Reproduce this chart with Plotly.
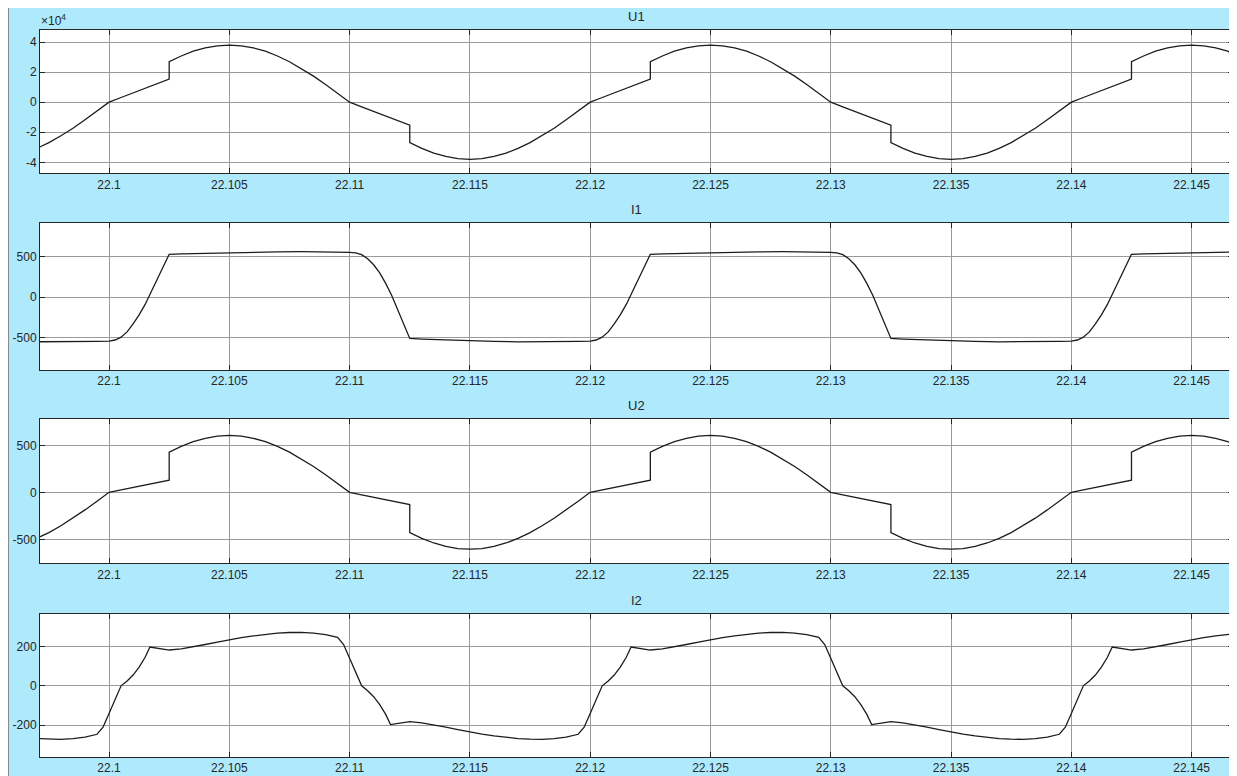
import plotly.graph_objects as go

# ---------------- data ----------------
t_u = [22.0970, 22.0975, 22.0980, 22.0985, 22.0990, 22.0995, 22.1000,
       22.1005, 22.1010, 22.1015, 22.1020, 22.1025, 22.1025,
       22.1030, 22.1035, 22.1040, 22.1045, 22.1050, 22.1055, 22.1060, 22.1065,
       22.1070, 22.1075, 22.1080, 22.1085, 22.1090, 22.1095, 22.1100,
       22.1105, 22.1110, 22.1115, 22.1120, 22.1125, 22.1125,
       22.1130, 22.1135, 22.1140, 22.1145, 22.1150, 22.1155, 22.1160, 22.1165,
       22.1170, 22.1175, 22.1180, 22.1185, 22.1190, 22.1195, 22.1200,
       22.1205, 22.1210, 22.1215, 22.1220, 22.1225, 22.1225,
       22.1230, 22.1235, 22.1240, 22.1245, 22.1250, 22.1255, 22.1260, 22.1265,
       22.1270, 22.1275, 22.1280, 22.1285, 22.1290, 22.1295, 22.1300,
       22.1305, 22.1310, 22.1315, 22.1320, 22.1325, 22.1325,
       22.1330, 22.1335, 22.1340, 22.1345, 22.1350, 22.1355, 22.1360, 22.1365,
       22.1370, 22.1375, 22.1380, 22.1385, 22.1390, 22.1395, 22.1400,
       22.1405, 22.1410, 22.1415, 22.1420, 22.1425, 22.1425,
       22.1430, 22.1435, 22.1440, 22.1445, 22.1450, 22.1455, 22.1460, 22.1465,
       22.1470]

u1 = [-30700, -26900, -22300, -17300, -11700, -5900, 0,
      3100, 6200, 9200, 12300, 15300, 26900,
      30700, 33900, 36100, 37500, 38000, 37500, 36100, 33900,
      30700, 26900, 22300, 17300, 11700, 5900, 0,
      -3100, -6200, -9200, -12300, -15300, -26900,
      -30700, -33900, -36100, -37500, -38000, -37500, -36100, -33900,
      -30700, -26900, -22300, -17300, -11700, -5900, 0,
      3100, 6200, 9200, 12300, 15300, 26900,
      30700, 33900, 36100, 37500, 38000, 37500, 36100, 33900,
      30700, 26900, 22300, 17300, 11700, 5900, 0,
      -3100, -6200, -9200, -12300, -15300, -26900,
      -30700, -33900, -36100, -37500, -38000, -37500, -36100, -33900,
      -30700, -26900, -22300, -17300, -11700, -5900, 0,
      3100, 6200, 9200, 12300, 15300, 26900,
      30700, 33900, 36100, 37500, 38000, 37500, 36100, 33900,
      30700]

u2 = [-489, -428, -356, -275, -187, -95, 0,
      26, 52, 78, 104, 130, 428,
      489, 539, 575, 598, 605, 598, 575, 539,
      489, 428, 356, 275, 187, 95, 0,
      -26, -52, -78, -104, -130, -428,
      -489, -539, -575, -598, -605, -598, -575, -539,
      -489, -428, -356, -275, -187, -95, 0,
      26, 52, 78, 104, 130, 428,
      489, 539, 575, 598, 605, 598, 575, 539,
      489, 428, 356, 275, 187, 95, 0,
      -26, -52, -78, -104, -130, -428,
      -489, -539, -575, -598, -605, -598, -575, -539,
      -489, -428, -356, -275, -187, -95, 0,
      26, 52, 78, 104, 130, 428,
      489, 539, 575, 598, 605, 598, 575, 539,
      489]

t_i1 = [22.0970, 22.0980, 22.0990, 22.0995, 22.1000,
        22.10025, 22.1005, 22.10075, 22.1010, 22.10125, 22.1015, 22.10175, 22.1020, 22.10225, 22.1025,
        22.1030, 22.1040, 22.1050, 22.1060, 22.1070, 22.1080, 22.1090, 22.1095, 22.1100,
        22.11025, 22.1105, 22.11075, 22.1110, 22.11125, 22.1115, 22.11175, 22.1120, 22.11225, 22.1125,
        22.1130, 22.1140, 22.1150, 22.1160, 22.1170, 22.1180, 22.1190, 22.1195, 22.1200,
        22.12025, 22.1205, 22.12075, 22.1210, 22.12125, 22.1215, 22.12175, 22.1220, 22.12225, 22.1225,
        22.1230, 22.1240, 22.1250, 22.1260, 22.1270, 22.1280, 22.1290, 22.1295, 22.1300,
        22.13025, 22.1305, 22.13075, 22.1310, 22.13125, 22.1315, 22.13175, 22.1320, 22.13225, 22.1325,
        22.1330, 22.1340, 22.1350, 22.1360, 22.1370, 22.1380, 22.1390, 22.1395, 22.1400,
        22.14025, 22.1405, 22.14075, 22.1410, 22.14125, 22.1415, 22.14175, 22.1420, 22.14225, 22.1425,
        22.1430, 22.1440, 22.1450, 22.1460, 22.1470]

i1 = [-552, -553, -550, -547, -543,
      -530, -495, -430, -330, -220, -90, 60, 215, 375, 530,
      535, 543, 550, 556, 560, 562, 560, 558, 553,
      548, 525, 475, 400, 300, 170, 20, -150, -330, -510,
      -518, -530, -540, -548, -552, -553, -550, -547, -543,
      -530, -495, -430, -330, -220, -90, 60, 215, 375, 530,
      535, 543, 550, 556, 560, 562, 560, 558, 553,
      548, 525, 475, 400, 300, 170, 20, -150, -330, -510,
      -518, -530, -540, -548, -552, -553, -550, -547, -543,
      -530, -495, -430, -330, -220, -90, 60, 215, 375, 530,
      535, 543, 550, 556, 560]

t_i2 = [22.0970, 22.0975, 22.0980, 22.0985, 22.0990, 22.0995, 22.09975, 22.1000,
        22.10025, 22.1005, 22.10075, 22.1010, 22.10125, 22.1015, 22.1017, 22.1020, 22.1025,
        22.1030, 22.1035, 22.1040, 22.1045, 22.1050, 22.1055, 22.1060, 22.1065, 22.1070,
        22.1075, 22.1080, 22.1085, 22.1090, 22.1095, 22.10975, 22.1100,
        22.11025, 22.1105, 22.11075, 22.1110, 22.11125, 22.1115, 22.1117, 22.1120, 22.1125,
        22.1130, 22.1135, 22.1140, 22.1145, 22.1150, 22.1155, 22.1160, 22.1165, 22.1170,
        22.1175, 22.1180, 22.1185, 22.1190, 22.1195, 22.11975, 22.1200,
        22.12025, 22.1205, 22.12075, 22.1210, 22.12125, 22.1215, 22.1217, 22.1220, 22.1225,
        22.1230, 22.1235, 22.1240, 22.1245, 22.1250, 22.1255, 22.1260, 22.1265, 22.1270,
        22.1275, 22.1280, 22.1285, 22.1290, 22.1295, 22.12975, 22.1300,
        22.13025, 22.1305, 22.13075, 22.1310, 22.13125, 22.1315, 22.1317, 22.1320, 22.1325,
        22.1330, 22.1335, 22.1340, 22.1345, 22.1350, 22.1355, 22.1360, 22.1365, 22.1370,
        22.1375, 22.1380, 22.1385, 22.1390, 22.1395, 22.13975, 22.1400,
        22.14025, 22.1405, 22.14075, 22.1410, 22.14125, 22.1415, 22.1417, 22.1420, 22.1425,
        22.1430, 22.1435, 22.1440, 22.1445, 22.1450, 22.1455, 22.1460, 22.1465, 22.1470]

i2 = [-268, -271, -272, -268, -260, -246, -210, -140,
      -70, 0, 25, 55, 95, 145, 197, 190, 182,
      188, 198, 210, 222, 234, 245, 254, 262, 268,
      271, 272, 268, 260, 246, 210, 140,
      70, 0, -25, -55, -95, -145, -197, -190, -182,
      -188, -198, -210, -222, -234, -245, -254, -262, -268,
      -271, -272, -268, -260, -246, -210, -140,
      -70, 0, 25, 55, 95, 145, 197, 190, 182,
      188, 198, 210, 222, 234, 245, 254, 262, 268,
      271, 272, 268, 260, 246, 210, 140,
      70, 0, -25, -55, -95, -145, -197, -190, -182,
      -188, -198, -210, -222, -234, -245, -254, -262, -268,
      -271, -272, -268, -260, -246, -210, -140,
      -70, 0, 25, 55, 95, 145, 197, 190, 182,
      188, 198, 210, 222, 234, 245, 254, 262, 268]

titles = ["U1", "I1", "U2", "I2"]
x_ticks = [22.1, 22.105, 22.11, 22.115, 22.12, 22.125, 22.13, 22.135, 22.14, 22.145]
x_tick_labels = ["22.1", "22.105", "22.11", "22.115", "22.12", "22.125", "22.13", "22.135", "22.14", "22.145"]
u1_ticks = [-40000, -20000, 0, 20000, 40000]
u1_tick_labels = ["-4", "-2", "0", "2", "4"]
i1_ticks = [-500, 0, 500]
i1_tick_labels = ["-500", "0", "500"]
u2_ticks = [-500, 0, 500]
u2_tick_labels = ["-500", "0", "500"]
i2_ticks = [-200, 0, 200]
i2_tick_labels = ["-200", "0", "200"]

# ---------------- layout geometry (pixels, page offset by body margin 8px) ----------------
OFF = 8
W, H = 1237 - OFF, 776 - OFF
X_LEFT, X_RIGHT = 40 - OFF, 1233 - OFF
panels = [(30 - OFF, 173.3 - OFF), (223.3 - OFF, 370 - OFF),
          (419.3 - OFF, 563.3 - OFF), (614 - OFF, 756.7 - OFF)]  # top, bottom px
y_ranges = [[-47300, 48000], [-901, 913], [-755, 777], [-360, 365]]
x_range = [22.09713, 22.14672]

FONT = "Liberation Sans, Arial, Helvetica, sans-serif"
TXT = "#262626"
BLUE = "#aee9fc"
GRID = "#9a9a9a"


def px_x(p):
    return p / W


def px_y(p):
    return 1 - p / H


fig = go.Figure()

series = [(t_u, u1), (t_i1, i1), (t_u, u2), (t_i2, i2)]
yticks = [(u1_ticks, u1_tick_labels), (i1_ticks, i1_tick_labels),
          (u2_ticks, u2_tick_labels), (i2_ticks, i2_tick_labels)]

for k, ((tx, vy), (tv, tt), (top, bot), yr) in enumerate(zip(series, yticks, panels, y_ranges)):
    n = "" if k == 0 else str(k + 1)
    fig.add_trace(go.Scatter(x=tx, y=vy, mode="lines",
                             line=dict(color="#1c1c1c", width=1.3),
                             xaxis="x" + n, yaxis="y" + n,
                             showlegend=False, hoverinfo="skip"))
    axcommon = dict(showline=True, linecolor=TXT, linewidth=1, mirror="ticks",
                    ticks="inside", ticklen=5, tickcolor=TXT, tickwidth=1,
                    showgrid=True, gridcolor=GRID, gridwidth=1, zeroline=False,
                    tickfont=dict(family=FONT, size=12, color=TXT))
    fig.update_layout(**{
        "xaxis" + n: dict(domain=[px_x(X_LEFT), px_x(X_RIGHT)], range=x_range,
                          anchor="y" + n, tickmode="array", tickvals=x_ticks,
                          ticktext=x_tick_labels, **axcommon),
        "yaxis" + n: dict(domain=[px_y(bot), px_y(top)], range=yr,
                          anchor="x" + n, tickmode="array", tickvals=tv,
                          ticktext=tt, **axcommon),
    })
    fig.add_annotation(text=titles[k], xref="paper", yref="paper",
                       x=px_x((X_LEFT + X_RIGHT) / 2), y=px_y(top - 13.5),
                       xanchor="center", yanchor="middle", showarrow=False,
                       font=dict(family=FONT, size=13, color=TXT))

fig.add_annotation(text="\u00d710<sup>4</sup>", xref="paper", yref="paper",
                   x=px_x(39 - OFF), y=px_y(20 - OFF), xanchor="left", yanchor="middle",
                   showarrow=False, font=dict(family=FONT, size=12, color=TXT))

shapes = [
    dict(type="line", xref="paper", yref="paper", x0=px_x(0.5), x1=px_x(0.5),
         y0=0, y1=1, line=dict(color="#8a8a8a", width=1), layer="below"),
    dict(type="rect", xref="paper", yref="paper", x0=px_x(1233.5 - OFF), x1=px_x(1240 - OFF),
         y0=px_y(13.5 - OFF), y1=px_y(7 - OFF), line=dict(color="#202020", width=1),
         fillcolor="rgba(0,0,0,0)"),
]
for top, bot in panels:
    shapes.append(dict(type="rect", xref="paper", yref="paper",
                       x0=px_x(X_LEFT), x1=px_x(X_RIGHT), y0=px_y(bot), y1=px_y(top),
                       fillcolor="white", line=dict(width=0), layer="below"))

fig.update_layout(
    width=W, height=H, autosize=False,
    margin=dict(l=0, r=0, t=0, b=0, pad=0),
    paper_bgcolor=BLUE, plot_bgcolor="white",
    shapes=shapes,
    font=dict(family=FONT, size=12, color=TXT),
)

fig.write_html("out.html")
